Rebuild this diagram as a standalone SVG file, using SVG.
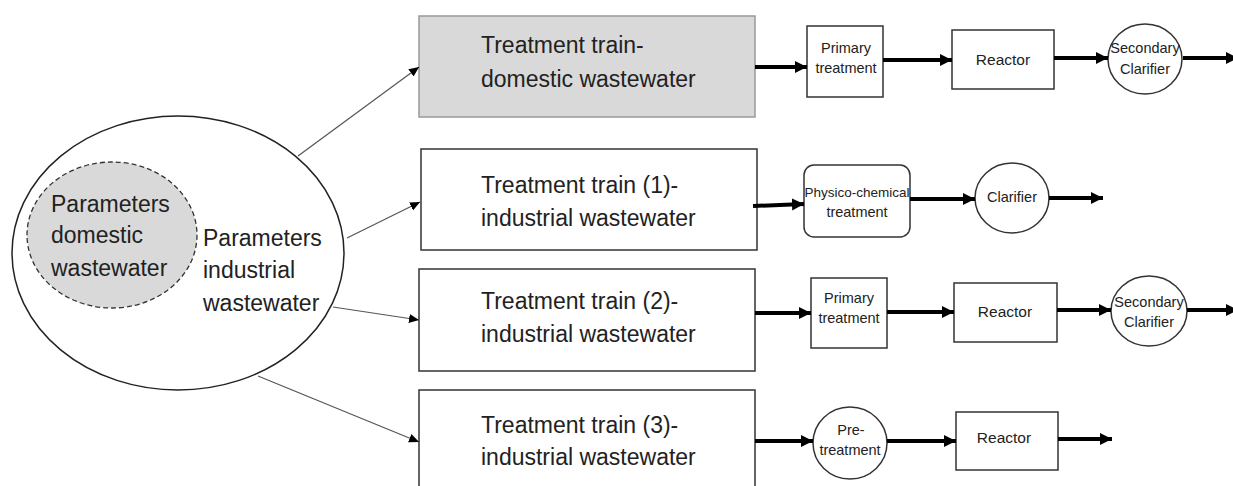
<svg xmlns="http://www.w3.org/2000/svg" width="1233" height="486" viewBox="0 0 1233 486">
<style>
text{font-family:"Liberation Sans",Arial,sans-serif;fill:#222}
.big{font-size:23px}
.par{font-size:23px}
.sm{font-size:14.5px;text-anchor:middle}
.rx{font-size:15.5px;text-anchor:middle}
.box{fill:#fff;stroke:#333;stroke-width:1.5}
.thin{stroke:#555;stroke-width:1.2;fill:none;marker-end:url(#ah)}
.thick{stroke:#000;stroke-width:4;fill:none;marker-end:url(#AH)}
</style>
<defs>
<marker id="ah" markerUnits="userSpaceOnUse" markerWidth="12" markerHeight="12" refX="10" refY="4.5" orient="auto"><path d="M0,0 L10,4.5 L0,9 z" fill="#000"/></marker>
<marker id="AH" markerUnits="userSpaceOnUse" markerWidth="14" markerHeight="14" refX="12" refY="6" orient="auto"><path d="M0,0 L12,6 L0,12 z" fill="#000"/></marker>
</defs>
<rect width="1233" height="486" fill="#fff"/>

<g id="params">
<ellipse cx="178" cy="253" rx="166" ry="137" fill="#fff" stroke="#222" stroke-width="1.5"/>
<ellipse cx="112" cy="235" rx="85" ry="73" fill="#d9d9d9" stroke="#333" stroke-width="1.3" stroke-dasharray="5,3"/>
<text class="par" x="51" y="212">Parameters</text>
<text class="par" x="51" y="243">domestic</text>
<text class="par" x="51" y="276">wastewater</text>
<text class="par" x="203" y="246">Parameters</text>
<text class="par" x="203" y="278">industrial</text>
<text class="par" x="203" y="311">wastewater</text>
</g>

<g id="train-domestic">
<rect x="419" y="16" width="336" height="101" fill="#d9d9d9" stroke="#999" stroke-width="1.5"/>
<text class="big" x="481" y="53">Treatment train-</text>
<text class="big" x="481" y="87">domestic wastewater</text>
</g>
<g id="train-1">
<rect class="box" x="421" y="149" width="336" height="101"/>
<text class="big" x="481" y="193">Treatment train (1)-</text>
<text class="big" x="481" y="226">industrial wastewater</text>
</g>
<g id="train-2">
<rect class="box" x="419" y="269" width="336" height="102"/>
<text class="big" x="481" y="309">Treatment train (2)-</text>
<text class="big" x="481" y="342">industrial wastewater</text>
</g>
<g id="train-3">
<rect class="box" x="419" y="390" width="336" height="110"/>
<text class="big" x="481" y="433">Treatment train (3)-</text>
<text class="big" x="481" y="465">industrial wastewater</text>
</g>

<g id="r1-primary">
<rect class="box" x="807" y="26" width="76" height="71"/>
<text class="sm" x="846" y="53">Primary</text>
<text class="sm" x="846" y="73">treatment</text>
</g>
<g id="r1-reactor">
<rect class="box" x="952" y="30" width="102" height="59"/>
<text class="rx" x="1003" y="65">Reactor</text>
</g>
<g id="r1-clarifier">
<ellipse class="box" cx="1145" cy="59" rx="37" ry="35"/>
<text class="sm" x="1145" y="53">Secondary</text>
<text class="sm" x="1145" y="74">Clarifier</text>
</g>

<g id="r2-physchem">
<rect class="box" x="804" y="165" width="106" height="72" rx="10"/>
<text class="sm" x="857" y="197" style="font-size:13.5px">Physico-chemical</text>
<text class="sm" x="857" y="217">treatment</text>
</g>
<g id="r2-clarifier">
<ellipse class="box" cx="1012" cy="198" rx="37" ry="35"/>
<text class="sm" x="1012" y="202">Clarifier</text>
</g>

<g id="r3-primary">
<rect class="box" x="811" y="278" width="76" height="70"/>
<text class="sm" x="849" y="303">Primary</text>
<text class="sm" x="849" y="323">treatment</text>
</g>
<g id="r3-reactor">
<rect class="box" x="954" y="283" width="103" height="59"/>
<text class="rx" x="1005" y="317">Reactor</text>
</g>
<g id="r3-clarifier">
<ellipse class="box" cx="1149" cy="311" rx="38" ry="35"/>
<text class="sm" x="1149" y="307">Secondary</text>
<text class="sm" x="1149" y="327">Clarifier</text>
</g>

<g id="r4-pretreatment">
<ellipse class="box" cx="850" cy="443" rx="37" ry="36"/>
<text class="sm" x="851" y="435">Pre-</text>
<text class="sm" x="850" y="455">treatment</text>
</g>
<g id="r4-reactor">
<rect class="box" x="956" y="412" width="102" height="58"/>
<text class="rx" x="1004" y="443">Reactor</text>
</g>

<g id="connectors">
<line class="thin" x1="298" y1="156" x2="419" y2="67"/>
<line class="thin" x1="347" y1="238" x2="420" y2="202"/>
<line class="thin" x1="333" y1="307" x2="419" y2="320"/>
<line class="thin" x1="258" y1="376" x2="419" y2="442"/>

<line class="thick" x1="755" y1="67" x2="807" y2="67"/>
<line class="thick" x1="883" y1="60" x2="952" y2="60"/>
<line class="thick" x1="1054" y1="58" x2="1108" y2="58"/>
<line class="thick" x1="1183" y1="58" x2="1238" y2="58"/>

<line class="thick" x1="753" y1="206" x2="804" y2="204"/>
<line class="thick" x1="910" y1="199" x2="975" y2="199"/>
<line class="thick" x1="1049" y1="198" x2="1103" y2="198"/>

<line class="thick" x1="755" y1="313" x2="811" y2="313"/>
<line class="thick" x1="887" y1="312" x2="954" y2="312"/>
<line class="thick" x1="1057" y1="310" x2="1111" y2="310"/>
<line class="thick" x1="1187" y1="310" x2="1238" y2="310"/>

<line class="thick" x1="755" y1="441" x2="813" y2="441"/>
<line class="thick" x1="887" y1="441" x2="956" y2="441"/>
<line class="thick" x1="1058" y1="439" x2="1112" y2="439"/>
</g>
</svg>
